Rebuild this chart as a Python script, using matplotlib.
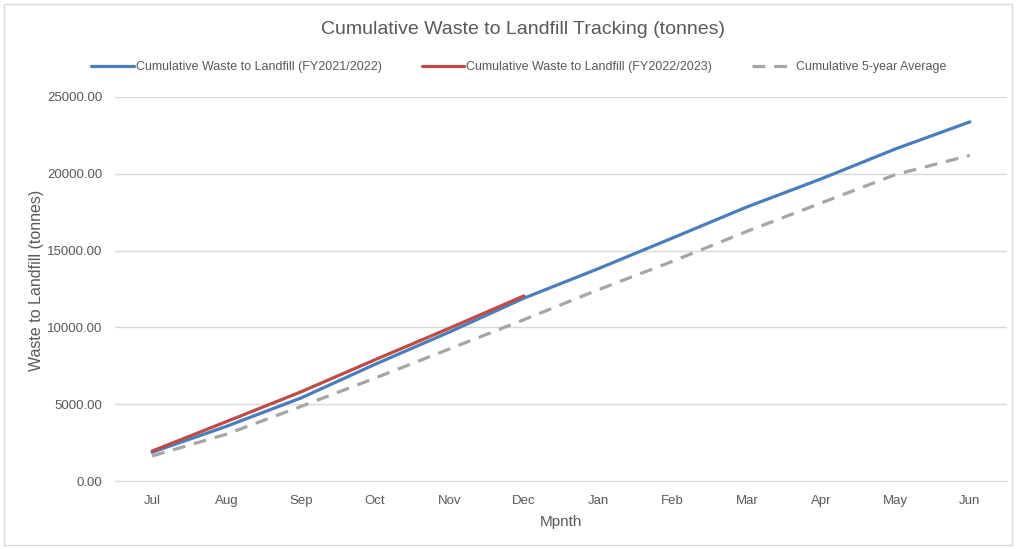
import matplotlib
matplotlib.use("Agg")
import matplotlib.pyplot as plt
from matplotlib.patches import Rectangle
from matplotlib.ticker import FuncFormatter

months = ["Jul", "Aug", "Sep", "Oct", "Nov", "Dec", "Jan", "Feb", "Mar", "Apr", "May", "Jun"]
fy2122 = [1870, 3560, 5400, 7600, 9700, 11900, 13820, 15820, 17840, 19670, 21620, 23380]
fy2223 = [1950, 3870, 5800, 7900, 9950, 12050]
avg5 = [1630, 3050, 4850, 6700, 8600, 10500, 12450, 14300, 16250, 18100, 19950, 21200]

plt.rcParams['font.family'] = ['Liberation Sans', 'DejaVu Sans']
txt = '#595959'

fig = plt.figure(figsize=(10.16, 5.49), dpi=100)
fig.patch.set_facecolor('white')
ax = fig.add_axes([115/1016, 1-481/549, (1007-115)/1016, (481-97)/549])

x = list(range(len(months)))
ax.plot(x, fy2122, color='#4a7ebb', lw=2.3, solid_capstyle='round',
        label='Cumulative Waste to Landfill (FY2021/2022)', zorder=3)
ax.plot(x[:len(fy2223)], fy2223, color='#be4b48', lw=2.3, solid_capstyle='round',
        label='Cumulative Waste to Landfill (FY2022/2023)', zorder=4)
ax.plot(x, avg5, color='#a5a5a5', lw=2.3, ls=(0, (4, 2.8)),
        label='Cumulative 5-year Average', zorder=2)

ax.set_xlim(-0.5, len(months)-0.5)
ax.set_ylim(0, 25000)
ax.set_yticks(range(0, 25001, 5000))
ax.yaxis.set_major_formatter(FuncFormatter(lambda v, p: f"{v:.2f}"))
ax.set_xticks(x)
ax.set_xticklabels(months)
ax.grid(axis='y', color='#d9d9d9', lw=1)
ax.set_axisbelow(True)
for s in ['top', 'right', 'left']:
    ax.spines[s].set_visible(False)
ax.spines['bottom'].set_color('#d9d9d9')
ax.tick_params(axis='both', length=0, colors=txt, labelsize=9.5)
ax.tick_params(axis='x', pad=10)
ax.tick_params(axis='y', pad=9)

ax.set_ylabel('Waste to Landfill (tonnes)', color=txt, fontsize=11.5)
ax.yaxis.set_label_coords((44-115)/(1007-115), (481-280)/(481-97))
ax.set_xlabel('Mpnth', color=txt, fontsize=11, labelpad=6)

fig.text(0.515, 1-30/549, 'Cumulative Waste to Landfill Tracking (tonnes)',
         ha='center', va='center', fontsize=14, color=txt)

leg = fig.legend(loc='center', bbox_to_anchor=(519/1016, 1-67/549), ncol=3,
                 frameon=False, fontsize=9, handlelength=3.4, handletextpad=0.15,
                 columnspacing=3.2)
for t in leg.get_texts():
    t.set_color(txt)

fig.patches.append(Rectangle((4/1016, 4/549), 1008/1016, 541/549, transform=fig.transFigure,
                             fill=False, edgecolor='#d9d9d9', lw=1))

fig.savefig('out.png', dpi=100, facecolor='white')
